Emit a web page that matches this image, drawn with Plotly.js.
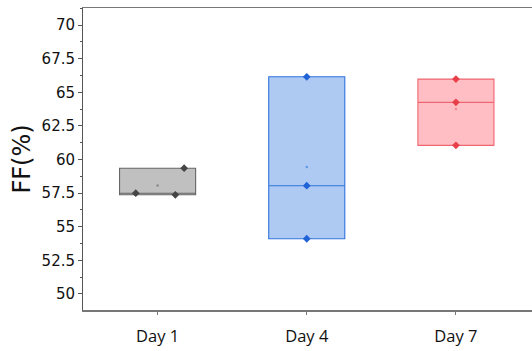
<!DOCTYPE html>
<html><head><meta charset="utf-8">
<script src="https://cdn.plot.ly/plotly-3.0.1.min.js"></script>
<style>html,body{margin:0;padding:0;background:#fff}#chart{width:532px;height:351px}</style>
</head><body><div id="chart"></div>
<script>
const categories = ["Day 1", "Day 4", "Day 7"];
const day1 = [59.35, 57.37, 57.49];
const day4 = [66.15, 58.05, 54.1];
const day7 = [65.98, 64.25, 61.05];
const yTickVals = [50, 52.5, 55, 57.5, 60, 62.5, 65, 67.5, 70];
const yTickText = ["50", "52.5", "55", "57.5", "60", "62.5", "65", "67.5", "70"];

const series = [
  {name: categories[0], y: day1, fill: "#c0c0c0", line: "#666666", mk: "#454545", jitter: 0.9},
  {name: categories[1], y: day4, fill: "#aecaf2", line: "#2f74dc", mk: "#1f63d6", jitter: 0},
  {name: categories[2], y: day7, fill: "#ffbec3", line: "#ef6670", mk: "#e8404a", jitter: 0}
];

const mean = a => a.reduce((s, v) => s + v, 0) / a.length;

const traces = series.map(s => ({
  type: "box",
  name: s.name,
  x: s.y.map(() => s.name),
  y: s.y,
  quartilemethod: "exclusive",
  boxpoints: "all",
  jitter: s.jitter,
  pointpos: 0,
  width: 0.51,
  fillcolor: s.fill,
  line: {color: s.line, width: 1.1},
  marker: {color: s.mk, size: 6, symbol: "diamond"},
  whiskerwidth: 0,
  showlegend: false,
  hoverinfo: "y"
}));

traces.push({
  type: "scatter",
  mode: "markers",
  x: categories,
  y: series.map(s => mean(s.y)),
  marker: {color: series.map(s => s.line), size: 2.5, opacity: 0.6},
  showlegend: false,
  hoverinfo: "y"
});

const layout = {
  width: 532, height: 351,
  margin: {l: 83, r: 0, t: 8, b: 41},
  paper_bgcolor: "#fff", plot_bgcolor: "#fff",
  font: {family: "DejaVu Sans, Verdana, sans-serif", color: "#111"},
  xaxis: {
    type: "category",
    categoryorder: "array", categoryarray: categories,
    range: [-0.5, 2.51],
    showgrid: false, zeroline: false,
    showline: true, linecolor: "#777", linewidth: 1.5, mirror: true,
    ticks: "outside", ticklen: 3, tickcolor: "#777",
    ticklabelstandoff: 8,
    tickfont: {size: 16.5, family: "Open Sans, DejaVu Sans, sans-serif", color: "#111"}
  },
  yaxis: {
    range: [48.8, 71.27],
    tickvals: yTickVals, ticktext: yTickText,
    showgrid: false, zeroline: false,
    showline: true, linecolor: "#555", linewidth: 1,
    ticks: "outside", ticklen: 4, tickcolor: "#555",
    tickfont: {size: 15, color: "#111"},
    minor: {dtick: 1.25, tick0: 50, ticks: "outside", ticklen: 2, tickcolor: "#555", showgrid: false},
    title: {text: "FF(%)", font: {size: 24, color: "#111"}, standoff: 4}
  }
};

Plotly.newPlot("chart", traces, layout, {displayModeBar: false, staticPlot: true});
</script>
</body></html>
